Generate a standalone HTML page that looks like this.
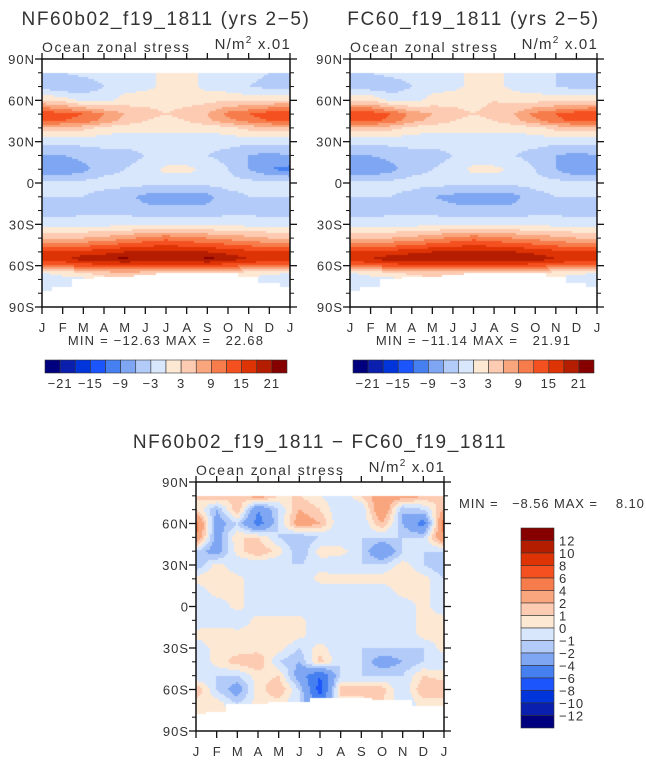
<!DOCTYPE html>
<html><head><meta charset="utf-8">
<style>
html,body{margin:0;padding:0;background:#fff;}
#wrap{position:relative;width:646px;height:760px;overflow:hidden;font-family:"Liberation Sans",sans-serif;}
canvas{position:absolute;}
svg{position:absolute;left:0;top:0;}
text{font-family:"Liberation Sans",sans-serif;fill:#333;white-space:pre;}
</style></head><body>
<div id="wrap">
<canvas id="c1" width="248" height="248" style="left:42px;top:59px"></canvas>
<canvas id="c2" width="247" height="248" style="left:350px;top:59px"></canvas>
<canvas id="c3" width="248" height="249" style="left:196px;top:482px"></canvas>
<svg id="ov" width="646" height="760"></svg>
</div>
<script>
// ---- data ----
const months = ["J","F","M","A","M","J","J","A","S","O","N","D","J"];
const latsTop = [80,70,60,50,45,40,30,20,10,0,-10,-20,-30,-40,-50,-55,-60,-65,-70,-80];
const nfValues = [
[-4,-3,-2,-2,-1,-1,1,1,-1,-2,-2,-3,-4],
[-4,-6,-5,-3,-1,-1,1,1,-1,-2,-3,-4,-4],
[3,2,-1,-1,1,2,2,2,2,3,2,3,3],
[15,13,12,9,6,4,3,4,6,10,12,14,15],
[13,12,11,8,5,3,2,3,5,8,10,12,13],
[5,5,4,2,1,1,1,1,1,2,4,5,5],
[-2,-2,-2,-2,-2,-2,-2,-2,-2,-2,-2,-2,-2],
[-6,-6,-5,-4,-4,-3,-3,-3,-3,-4,-6,-7,-6],
[-9,-9,-7,-4,-3,-2,1,1,-1,-3,-6,-9,-10],
[-2,-2,-2,-2,-2,-2,-2,-2,-2,-2,-2,-2,-2],
[-3,-3,-3,-4,-5,-7,-8,-8,-7,-4,-3,-3,-3],
[-5,-5,-4,-4,-4,-5,-5,-5,-5,-4,-4,-5,-5],
[-1,-1,-1,-1,-1,-1,-1,-1,-1,-1,-1,-1,-1],
[5,5,6,7,8,10,11,10,9,8,7,6,5],
[15,15,16,17,18,18,19,18,18,17,16,15,15],
[17,17,20,20,22,19,19,19,22,20,18,17,17],
[12,12,13,14,14,15,15,14,14,13,12,12,12],
[0,1,3,5,6,5,4,4,4,3,2,1,0],
[-2,-1,-1,1,2,2,2,2,2,1,-1,-2,-2],
[-2,-2,-2,-2,-2,-2,-2,-2,-2,-2,-2,-2,-2]];
const fcValues = [
[-4,-3,-2,-2,-1,-1,1,1,-1,-2,-3,-4,-4],
[-4,-5,-5,-3,-1,-1,1,1,-1,-2,-3,-4,-4],
[2,3,-1,-1,1,2,2,3,2,2,2,2,2],
[15,14,12,8,6,4,3,4,6,10,12,14,15],
[13,13,11,7,5,3,2,3,5,8,11,13,13],
[5,5,4,2,1,1,1,1,1,2,4,5,5],
[-2,-2,-2,-2,-2,-2,-2,-2,-2,-2,-2,-2,-2],
[-6,-6,-5,-4,-4,-3,-3,-3,-3,-4,-6,-7,-6],
[-9,-9,-7,-4,-3,-2,1,1,-1,-3,-6,-9,-9],
[-2,-2,-2,-2,-2,-2,-2,-2,-2,-2,-2,-2,-2],
[-3,-3,-3,-4,-6,-7,-8,-8,-7,-4,-3,-3,-3],
[-5,-5,-4,-4,-4,-5,-5,-5,-5,-4,-4,-5,-5],
[-1,-1,-1,-1,-1,-1,-1,-1,-1,-1,-1,-1,-1],
[5,5,6,7,8,10,11,10,9,8,7,6,5],
[15,15,16,17,18,18,19,18,18,17,16,15,15],
[17,18,20,21,19,19,19,19,21,20,18,17,17],
[12,12,13,14,14,15,15,14,14,13,12,12,12],
[0,1,3,4,5,5,4,4,4,3,2,1,0],
[-2,-1,-1,1,2,2,2,2,2,1,-1,-2,-2],
[-2,-2,-2,-2,-2,-2,-2,-2,-2,-2,-2,-2,-2]];
const southLimitTop = [-78,-76,-70,-68,-68,-67,-66,-66,-66,-66,-68,-72,-76];
const latsDiff = [80,70,60,50,40,30,20,10,0,-10,-20,-30,-40,-50,-60,-70,-80];
const diffValues = [
[1,2,1,3,1,1,0,-1,1,3,3,2,1],
[1,-2,2,-4,-1,2,1,-1,-1,4,-2,-1,2],
[5,-3,-1,-5,-1,3,2,-1,-1,2,-2,-5,5],
[4,-3,1,1,-1,-2,-1,-1,-1,-1,-1,-1,4],
[-1,-3,0.5,2,0.5,-2,0.5,0.5,-1,-4,-1,-1,-1],
[-2,0.5,-1,-1,-1,-1,-0.5,-1,-1,-1,0.5,-1,-2],
[0.5,1,0.5,-1,-1,-1,0.5,0.5,0.5,0.5,1,0.5,-1],
[-1,0.5,0.5,-1,-1,-1,-1,-1,-1,-1,0.5,0.5,-1],
[-1,-1,0.5,-1,-1,-1,-1,-1,-1,-1,-1,0.5,-1],
[-1,-1,-1,0.5,0.5,0.5,-1,-1,-1,-1,-1,0.5,0.5],
[0.5,1,0.5,0.5,1,0.5,-1,-1,-1,-1,-1,0.5,0.5],
[-1,0.5,0.5,0.5,0.5,-1,0.5,-1,-1,-1,-1,-1,0.5],
[-1,0.5,1.5,2,-1,-2,1.5,-1,-1,-3,-2,-1,-1],
[-1,-1,-1,0.5,1,-3,-6,-1,-1,-1,-1,1,0.5],
[2,-1,-3,0.5,2,-1,-7,1.5,1.5,1.5,-1,2,2],
[0.5,0.5,-1,0.5,0.5,-1,-5,0.5,0.5,1,-1,0.5,0.5],
[0.5,0.5,0.5,0.5,0.5,0.5,0.5,0.5,0.5,0.5,0.5,0.5,0.5]];
const southLimitDiff = [-78,-76,-70,-70,-69,-69,-66,-66,-66,-67,-67,-72,-72];
const levelsTop = [-21,-18,-15,-12,-9,-6,-3,0,3,6,9,12,15,18,21];
const labelsTop = ["-21","-15","-9","-3","3","9","15","21"];
const levelsDiff = [-12,-10,-8,-6,-4,-2,-1,0,1,2,4,6,8,10,12];
const labelsDiff = ["12","10","8","6","4","2","1","0","\u22121","\u22122","\u22124","\u22126","\u22128","\u221210","\u221212"];
const yTickLabels = ["90N","60N","30N","0","30S","60S","90S"];
const colors = ["#00007f","#0a1fae","#0035dc","#1c55fb","#4680f0","#7ea6f3","#b3cbf8","#d8e7fc","#fde8d4","#fccbb1","#f9a67f","#f77c4b","#f5501f","#dd3305","#b41d00","#860000"];

// ---- scales ----
function lerpRows(lats, vals, lat, col){
  if(lat>=lats[0]) return vals[0][col];
  for(let i=0;i<lats.length-1;i++){
    if(lat<=lats[i] && lat>=lats[i+1]){
      const t=(lats[i]-lat)/(lats[i]-lats[i+1]);
      return vals[i][col]*(1-t)+vals[i+1][col]*t;
    }
  }
  return vals[vals.length-1][col];
}
function sample(lats, vals, m, lat){
  const c0=Math.min(11,Math.floor(m)), t=m-c0;
  return lerpRows(lats,vals,lat,c0)*(1-t)+lerpRows(lats,vals,lat,c0+1)*t;
}
function colorFor(v, levels){
  let i=0; while(i<levels.length && v>=levels[i]) i++;
  return colors[i];
}
function drawField(id, lats, vals, south, levels){
  const cv=document.getElementById(id), ctx=cv.getContext('2d');
  const W=cv.width,H=cv.height, step=2;
  for(let px=0;px<W;px+=step){
    const m=(px+step/2)/W*12;
    const lim=south[Math.min(12,Math.floor(m+0.5))];
    for(let py=0;py<H;py+=step){
      const lat=90-(py+step/2)/H*180;
      if(lat>80.5 || lat<lim) continue;
      ctx.fillStyle=colorFor(sample(lats,vals,m,lat),levels);
      ctx.fillRect(px,py,step,step);
    }
  }
}
drawField('c1',latsTop,nfValues,southLimitTop,levelsTop);
drawField('c2',latsTop,fcValues,southLimitTop,levelsTop);
drawField('c3',latsDiff,diffValues,southLimitDiff,levelsDiff);

// ---- overlay ----
const ov=document.getElementById('ov'), NS="http://www.w3.org/2000/svg";
function el(tag,attrs,txt){const e=document.createElementNS(NS,tag);for(const k in attrs)e.setAttribute(k,attrs[k]);if(txt!==undefined)e.textContent=txt;ov.appendChild(e);return e;}
function text(x,y,s,size,anchor,name,ls){
  const t=el('text',{x:x,y:y,'font-size':size,'text-anchor':anchor||'start','letter-spacing':ls||0},s);
  
  
  return t;
}
function axes(x0,y0,w,h,prefix,title,minmax){
  const frame=el('rect',{x:x0,y:y0,width:w,height:h,fill:'none',stroke:'#111','stroke-width':1.5});
  
  
  for(let k=0;k<=18;k++){
    const y=y0+k*h/18, major=k%3===0, L=major?7:4;
    el('line',{x1:x0-L,y1:y,x2:x0,y2:y,stroke:'#111','stroke-width':major?1.3:1});
    el('line',{x1:x0+w,y1:y,x2:x0+w+L,y2:y,stroke:'#111','stroke-width':major?1.3:1});
    if(major) text(x0-7,y+5,yTickLabels[k/3],13,'end',prefix+'-y-tick-label',1);
  }
  for(let k=0;k<=12;k++){
    const x=x0+k*w/12;
    el('line',{x1:x,y1:y0+h,x2:x,y2:y0+h+7,stroke:'#111','stroke-width':1.3});
    el('line',{x1:x,y1:y0-6,x2:x,y2:y0,stroke:'#111','stroke-width':1.3});
    text(x,y0+h+25,months[k],13,'middle',prefix+'-x-tick-label');
  }
  text(x0,y0-7,"Ocean zonal stress",14,'start',prefix+'-subtitle',1.6);
  const u=text(x0+w+1,y0-10,"",15,'end',prefix+'-units',1.2);
  u.innerHTML='N/m<tspan dy="-6" font-size="10">2</tspan><tspan dy="6"> x.01</tspan>';
  text(x0+w/2,y0-34,title,19,'middle',prefix+'-title',1.6).setAttribute('fill','#444');
  if(minmax) text(x0+w/2,y0+h+38,minmax,13,'middle',prefix+'-min-max',1.2);
}
axes(42,59,248,248,'nf60',"NF60b02_f19_1811 (yrs 2\u22125)","MIN = \u221212.63 MAX =   22.68");
axes(350,59,247,248,'fc60',"FC60_f19_1811 (yrs 2\u22125)","MIN = \u221211.14 MAX =   21.91");
axes(196,482,248,249,'diff',"NF60b02_f19_1811 \u2212 FC60_f19_1811",null);
text(459,508,"MIN =   \u22128.56 MAX =    8.10",13,'start','diff-min-max',0.9);

function hbar(x0,y0,w,h,prefix){
  const bw=w/colors.length;
  for(let i=0;i<colors.length;i++){
    const r=el('rect',{x:x0+i*bw,y:y0,width:bw,height:h,fill:colors[i],stroke:'#333','stroke-width':0.6});
    
    
  }
  for(let j=0;j<labelsTop.length;j++){
    const x=x0+(2*j+1)*bw;
    text(x,y0+h+15,labelsTop[j].replace('-','\u2212'),13,'middle',prefix+'-colorbar-label',1);
  }
}
hbar(45,360,242,13,'nf60');
hbar(353,360,241,13,'fc60');
(function(){
  const x0=521,y0=528,w=33,h=200,bh=h/colors.length;
  for(let i=0;i<colors.length;i++){
    const r=el('rect',{x:x0,y:y0+i*bh,width:w,height:bh,fill:colors[colors.length-1-i],stroke:'#333','stroke-width':0.6});
    
    
  }
  for(let j=0;j<labelsDiff.length;j++){
    text(x0+w+5,y0+(j+1)*bh+5,labelsDiff[j],13,'start','diff-colorbar-label',1);
  }
})();
</script>
</body></html>
